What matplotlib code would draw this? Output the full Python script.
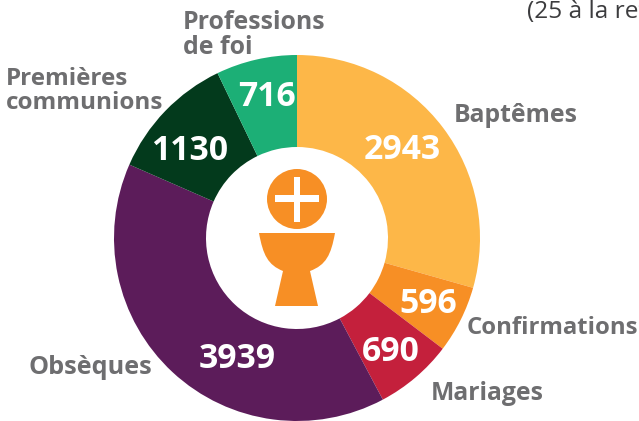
import matplotlib
matplotlib.use('Agg')
import matplotlib.pyplot as plt
from matplotlib.patches import Circle, Rectangle, PathPatch
from matplotlib.path import Path

plt.rcParams['font.family'] = ['Open Sans', 'DejaVu Sans']

categories = ['Baptêmes', 'Confirmations', 'Mariages', 'Obsèques',
              'Premières\ncommunions', 'Professions\nde foi']
values = [2943, 596, 690, 3939, 1130, 716]
colors = ['#FDB748', '#F78F25', '#C4203C', '#5C1C5A', '#033A1C', '#1CAF76']

W, H = 639, 421
CX, CY = 297, 238
GREY = '#6E6E70'
ORANGE = '#F78F25'


def flip(y):
    # picture coords have y going down
    return H - y


fig = plt.figure(figsize=(W / 100, H / 100), dpi=100)
ax = fig.add_axes([0, 0, 1, 1])

wedges, _ = ax.pie(values, colors=colors, startangle=90, counterclock=False,
                   center=(CX, flip(CY)), radius=183,
                   wedgeprops={'width': 92, 'linewidth': 0})
ax.set_xlim(0, W)
ax.set_ylim(0, H)
ax.set_aspect('equal')
ax.axis('off')

# white value labels
value_pos = [(402, 150), (428, 304), (391, 352), (237, 359), (190, 151), (267, 97)]
for v, (x, y) in zip(values, value_pos):
    ax.text(x, flip(y), str(v), color='white', fontsize=24.3, fontweight='bold',
            ha='center', va='center')

# outside labels
label_pos = [(454, 115), (467, 328), (431, 394), (29, 367), (6, 91), (183, 35)]
label_size = [17.8, 17.2, 17.8, 18.2, 17.5, 17.9]
for c, (x, y), size in zip(categories, label_pos, label_size):
    ax.text(x, flip(y), c, color=GREY, fontsize=size, fontweight='bold',
            ha='left', va='center', linespacing=1.05)

# bit of the next text block, cut by the image edge
ax.text(527, flip(12), '(25 à la ret', color='#3C3C3E', fontsize=17.6,
        ha='left', va='center', clip_on=True)

# host with cross
ax.add_patch(Circle((CX, flip(199)), 30, fc=ORANGE, ec='none'))
ax.add_patch(Rectangle((275, flip(202)), 44, 7, fc='white', ec='none'))
ax.add_patch(Rectangle((294, flip(222)), 6, 45, fc='white', ec='none'))

# chalice
cup = Path([(259, flip(233)), (335, flip(233)),
            (331, flip(255)), (326, flip(265)), (310, flip(271)),
            (318, flip(306)), (275, flip(306)), (283, flip(271)),
            (268, flip(265)), (263, flip(255)), (259, flip(233)),
            (259, flip(233))],
           [Path.MOVETO, Path.LINETO,
            Path.CURVE4, Path.CURVE4, Path.CURVE4,
            Path.LINETO, Path.LINETO, Path.LINETO,
            Path.CURVE4, Path.CURVE4, Path.CURVE4,
            Path.CLOSEPOLY])
ax.add_patch(PathPatch(cup, fc=ORANGE, ec='none'))

fig.savefig('out.png', dpi=100)
plt.close()
